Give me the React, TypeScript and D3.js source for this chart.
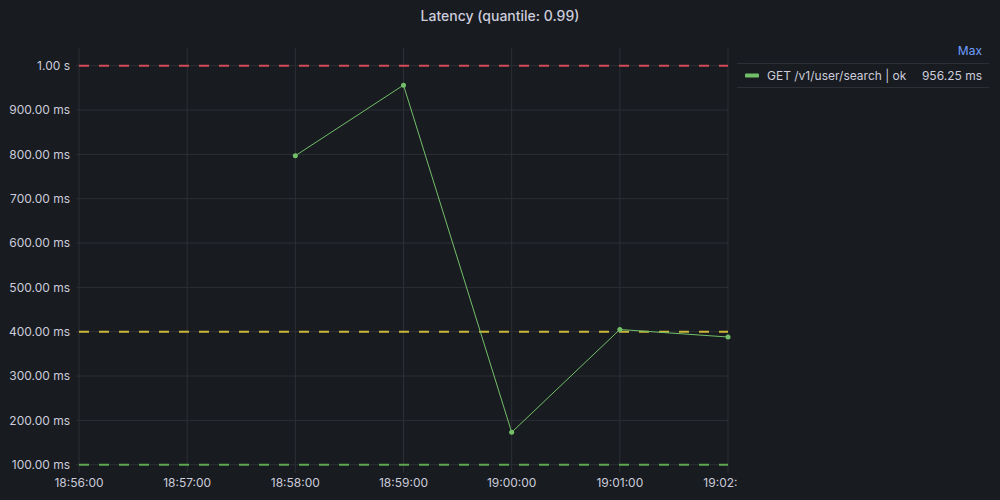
import { useEffect, useRef } from 'react';
import * as d3 from 'd3';

const times = ['18:58:00', '18:59:00', '19:00:00', '19:01:00', '19:02:00'];
const latencyMs = [797, 956.25, 173, 405, 388];
const thresholdValues = [1000, 400, 100];
const thresholdColors = ['#D44A5A', '#C9B73A', '#5EA752'];
const yTicks = [100, 200, 300, 400, 500, 600, 700, 800, 900, 1000];
const seriesName = 'GET /v1/user/search | ok';
const legendStat = 'Max';

const parseTime = (s: string) => {
  const [h, m, sec] = s.split(':').map(Number);
  return new Date(2024, 0, 1, h, m, sec);
};

export default function App() {
  const svgRef = useRef<SVGSVGElement | null>(null);

  useEffect(() => {
    if (!svgRef.current) return;
    const svg = d3.select(svgRef.current);
    svg.selectAll('*').remove();

    const width = 1000;
    const height = 500;
    const left = 79, right = 728, top = 48, bottom = 464.7;
    const font = 'Inter, "Noto Sans", sans-serif';
    const textColor = '#ccccdc';
    const gridColor = '#2c2f35';

    svg.append('rect').attr('width', width).attr('height', height).attr('fill', '#181b1f');

    const data = times.map((t, i) => ({ t: parseTime(t), v: latencyMs[i] }));

    const x = d3.scaleTime()
      .domain([parseTime('18:56:00'), parseTime('19:02:00')])
      .range([left, right]);
    const y = d3.scaleLinear().domain([100, 1040]).range([bottom, top]);

    // Title
    svg.append('text')
      .attr('x', 500).attr('y', 21)
      .attr('text-anchor', 'middle')
      .attr('fill', textColor)
      .attr('font-family', font)
      .attr('font-size', '14px')
      .attr('font-weight', 500)
      .text('Latency (quantile: 0.99)');

    // Grid
    const xTicks = x.ticks(d3.timeMinute.every(1)!);
    svg.append('g')
      .selectAll('line')
      .data(xTicks)
      .join('line')
      .attr('x1', d => x(d)).attr('x2', d => x(d))
      .attr('y1', top).attr('y2', bottom + 8)
      .attr('stroke', gridColor).attr('stroke-width', 1);

    svg.append('g')
      .selectAll('line')
      .data(yTicks)
      .join('line')
      .attr('x1', left - 3).attr('x2', right)
      .attr('y1', d => y(d)).attr('y2', d => y(d))
      .attr('stroke', gridColor).attr('stroke-width', 1);

    // Y labels
    svg.append('g')
      .selectAll('text')
      .data(yTicks)
      .join('text')
      .attr('x', 70).attr('y', d => y(d))
      .attr('dy', '0.35em')
      .attr('text-anchor', 'end')
      .attr('fill', textColor)
      .attr('font-family', font)
      .attr('font-size', '12px')
      .text(d => (d >= 1000 ? `${(d / 1000).toFixed(2)} s` : `${d.toFixed(2)} ms`));

    // X labels (clipped at legend edge)
    const clip = svg.append('clipPath').attr('id', 'xclip');
    clip.append('rect').attr('x', 0).attr('y', 470).attr('width', 737).attr('height', 30);
    svg.append('g')
      .attr('clip-path', 'url(#xclip)')
      .selectAll('text')
      .data(xTicks)
      .join('text')
      .attr('x', d => x(d)).attr('y', 487)
      .attr('text-anchor', 'middle')
      .attr('fill', textColor)
      .attr('font-family', font)
      .attr('font-size', '12px')
      .text(d => d3.timeFormat('%H:%M:%S')(d));

    // Thresholds
    svg.append('g')
      .selectAll('line')
      .data(thresholdValues)
      .join('line')
      .attr('x1', left).attr('x2', right)
      .attr('y1', d => y(d)).attr('y2', d => y(d))
      .attr('stroke', (_, i) => thresholdColors[i])
      .attr('stroke-width', 2)
      .attr('stroke-dasharray', '10,10');

    // Series
    const line = d3.line<{ t: Date; v: number }>()
      .x(d => x(d.t))
      .y(d => y(d.v));

    svg.append('path')
      .datum(data)
      .attr('d', line)
      .attr('fill', 'none')
      .attr('stroke', '#73BF69')
      .attr('stroke-width', 1);

    svg.append('g')
      .selectAll('circle')
      .data(data)
      .join('circle')
      .attr('cx', d => x(d.t))
      .attr('cy', d => y(d.v))
      .attr('r', 2.5)
      .attr('fill', '#73BF69');

    // Legend
    const lg = svg.append('g');
    lg.append('text')
      .attr('x', 982).attr('y', 55)
      .attr('text-anchor', 'end')
      .attr('fill', '#6E9FFF')
      .attr('font-family', font)
      .attr('font-size', '12px')
      .text(legendStat);
    [63.5, 87.5].forEach(yy => {
      lg.append('line')
        .attr('x1', 737).attr('x2', 989)
        .attr('y1', yy).attr('y2', yy)
        .attr('stroke', '#2c2f35');
    });
    lg.append('rect')
      .attr('x', 745).attr('y', 73.5)
      .attr('width', 14).attr('height', 4).attr('rx', 1)
      .attr('fill', '#73BF69');
    lg.append('text')
      .attr('x', 767).attr('y', 79.5)
      .attr('fill', textColor)
      .attr('font-family', font)
      .attr('font-size', '12px')
      .text(seriesName);
    lg.append('text')
      .attr('x', 982).attr('y', 79.5)
      .attr('text-anchor', 'end')
      .attr('fill', textColor)
      .attr('font-family', font)
      .attr('font-size', '12px')
      .text(`${d3.max(latencyMs)!.toFixed(2)} ms`);
  }, []);

  return (
    <svg
      ref={svgRef}
      width={1000}
      height={500}
      style={{ position: 'fixed', left: 0, top: 0, display: 'block' }}
    />
  );
}
